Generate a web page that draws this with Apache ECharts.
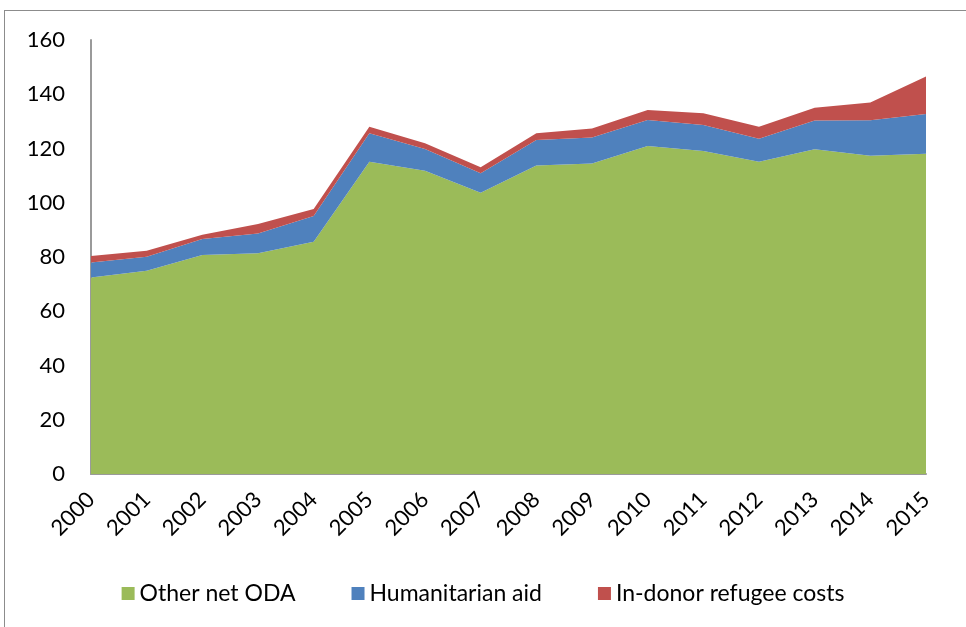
<!DOCTYPE html>
<html>
<head>
<meta charset="utf-8">
<script src="https://cdn.jsdelivr.net/npm/echarts@6/dist/echarts.min.js"></script>
<style>
  html, body { margin: 0; padding: 0; background: #fff; }
  #chart { width: 966px; height: 627px; position: relative; }
  .frame {
    position: absolute; left: 4px; top: 10px;
    width: 1100px; height: 800px;
    border: 1.5px solid #8c8c8c; pointer-events: none;
  }
  body { overflow: hidden; }
</style>
</head>
<body>
<div id="chart"></div>
<div class="frame"></div>
<script>
// data
var years = ['2000', '2001', '2002', '2003', '2004', '2005', '2006', '2007',
  '2008', '2009', '2010', '2011', '2012', '2013', '2014', '2015']
var otherOda = [72.4, 74.9, 80.7, 81.4, 85.6, 115.1, 111.8, 103.7, 113.7, 114.5, 120.9, 119.1, 115.1, 119.7, 117.3, 118.1]
var humanitarian = [5.6, 5.2, 5.9, 7.3, 9.5, 10.5, 8.0, 7.2, 9.4, 9.6, 9.6, 9.6, 8.5, 10.6, 13.1, 14.6]
var refugeeCosts = [2.4, 2.2, 1.6, 3.5, 2.6, 2.4, 2.1, 2.2, 2.5, 3.3, 3.7, 4.3, 4.4, 4.7, 6.6, 13.8]

var fontName = 'Lato, "Open Sans", sans-serif'

function areaSeries(name, data, color) {
  return {
    name: name,
    type: 'line',
    stack: 'total',
    data: data,
    symbol: 'none',
    lineStyle: { width: 0 },
    areaStyle: { color: color, opacity: 1 },
    itemStyle: { color: color },
    emphasis: { disabled: true }
  }
}

var myChart = echarts.init(document.getElementById('chart'))
myChart.setOption({
  backgroundColor: '#ffffff',
  animation: false,
  grid: { left: 91, right: 40, top: 40, bottom: 153 },
  legend: {
    bottom: 17,
    left: 'center',
    itemWidth: 13,
    itemHeight: 13,
    itemGap: 56,
    icon: 'rect',
    textStyle: { fontSize: 23, color: '#000', fontFamily: fontName },
    data: ['Other net ODA', 'Humanitarian aid', 'In-donor refugee costs']
  },
  xAxis: {
    type: 'category',
    data: years,
    boundaryGap: false,
    axisLine: { lineStyle: { color: '#9a9a9a', width: 2 } },
    axisTick: { show: false },
    axisLabel: {
      rotate: 45,
      margin: 22,
      fontSize: 22,
      color: '#000',
      fontFamily: fontName
    }
  },
  yAxis: {
    type: 'value',
    min: 0,
    max: 160,
    interval: 20,
    axisLine: { show: true, lineStyle: { color: '#9a9a9a', width: 2 } },
    axisTick: { show: false },
    splitLine: { show: false },
    axisLabel: { margin: 26, fontSize: 22, color: '#000', fontFamily: fontName }
  },
  series: [
    areaSeries('Other net ODA', otherOda, '#9bbb59'),
    areaSeries('Humanitarian aid', humanitarian, '#4f81bd'),
    areaSeries('In-donor refugee costs', refugeeCosts, '#c0504d')
  ]
})
window.onresize = myChart.resize
</script>
</body>
</html>
